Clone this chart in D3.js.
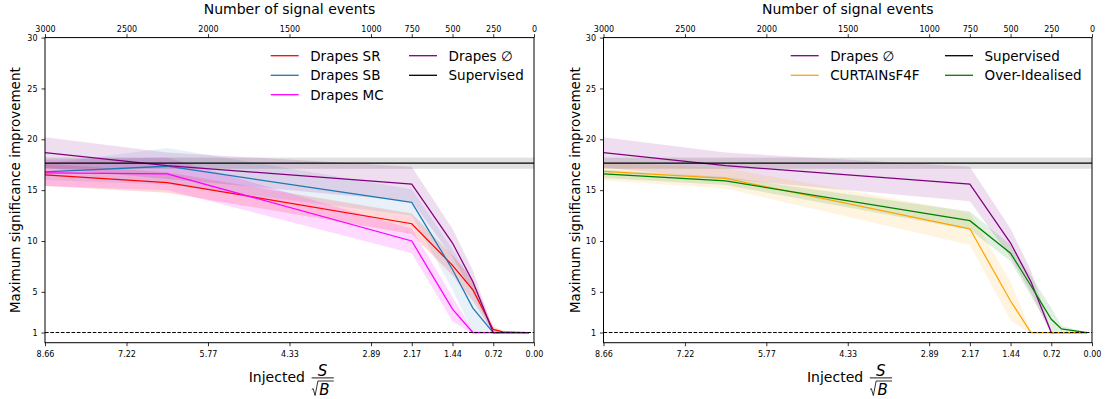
<!DOCTYPE html>
<html><head><meta charset="utf-8">
<script src="https://cdn.jsdelivr.net/npm/d3@7"></script>
<style>body{margin:0;background:#fff} svg{display:block} text{font-family:"DejaVu Sans",sans-serif;fill:#000}</style>
</head><body><svg id="c" width="1107" height="399"></svg>
<script>
// ---- data ----
const events = [3000, 2250, 750, 500, 375, 250, 187.5, 30];
const topTicks = [3000, 2500, 2000, 1500, 1000, 750, 500, 250, 0];
const bottomTickLabels = ["8.66", "7.22", "5.77", "4.33", "2.89", "2.17", "1.44", "0.72", "0.00"];
const yTicks = [1, 5, 10, 15, 20, 25, 30];

const drapesSR = [16.5, 15.75, 11.7, 7.6, 5.2, 1.3, 1.05, 1.0];
const drapesSRErr = [1.1, 1.0, 1.0, 1.0, 1.1, 0.3, 0.1, 0];
const drapesSB = [16.8, 17.35, 13.8, 7.2, 3.4, 1.0, 1.0, 1.0];
const drapesSBErr = [0.8, 1.8, 1.3, 2.0, 2.4, 0.1, 0, 0];
const drapesMC = [16.7, 16.6, 10.0, 3.3, 1.0, 1.0, 1.0, 1.0];
const drapesMCErr = [1.3, 1.6, 1.2, 1.2, 0.2, 0, 0, 0];
const drapesEmpty = [18.7, 17.4, 15.6, 9.8, 6.0, 1.0, 1.0, 1.0];
const drapesEmptyErr = [1.5, 1.3, 1.7, 1.4, 1.1, 0.2, 0, 0];
const curtains = [16.85, 16.15, 11.2, 4.1, 1.0, 1.0, 1.0, 1.0];
const curtainsErr = [0.9, 1.0, 1.6, 1.9, 0.2, 0, 0, 0];
const overIdealised = [16.6, 15.9, 12.0, 8.8, 5.6, 2.3, 1.35, 1.0];
const overIdealisedErr = [0.4, 0.4, 0.9, 0.8, 1.0, 1.1, 0.3, 0.05];
const supervised = 17.65;
const supervisedErr = 0.55;

// ---- layout ----
const yTop = 37.6, yBot = 342.7;
const y = d3.scaleLinear().domain([0, 30]).range([yBot, yTop]);
const svg = d3.select("#c");

const S = (name, vals, errs, color, alpha) => ({name, vals, errs, color, alpha});
const panels = [
  {x0: 45, x1: 534, ylabX: 20,
   series: [S("Drapes SR", drapesSR, drapesSRErr, "#ff0000", 0.15),
            S("Drapes SB", drapesSB, drapesSBErr, "#1f77b4", 0.1),
            S("Drapes MC", drapesMC, drapesMCErr, "#ff00ff", 0.15),
            S("Drapes \u2205", drapesEmpty, drapesEmptyErr, "#800080", 0.13)],
   legend: [{n: "Drapes SR", c: "#ff0000", x: 270.7, r: 0}, {n: "Drapes SB", c: "#1f77b4", x: 270.7, r: 1},
            {n: "Drapes MC", c: "#ff00ff", x: 270.7, r: 2}, {n: "Drapes \u2205", c: "#800080", x: 409, r: 0},
            {n: "Supervised", c: "#000", x: 409, r: 1}]},
  {x0: 603.5, x1: 1092, ylabX: 580,
   series: [S("Drapes \u2205", drapesEmpty, drapesEmptyErr, "#800080", 0.13),
            S("CURTAINsF4F", curtains, curtainsErr, "#ffa500", 0.12),
            S("Over-Idealised", overIdealised, overIdealisedErr, "#008000", 0.12)],
   legend: [{n: "Drapes \u2205", c: "#800080", x: 790.7, r: 0}, {n: "CURTAINsF4F", c: "#ffa500", x: 790.7, r: 1},
            {n: "Supervised", c: "#000", x: 945, r: 0}, {n: "Over-Idealised", c: "#008000", x: 945, r: 1}]}
];
const rowsY = [55.7, 75.3, 94.7];

panels.forEach((p, pi) => {
  const x = d3.scaleLinear().domain([3000, 0]).range([p.x0, p.x1]);
  const g = svg.append("g");
  const cx = (p.x0 + p.x1) / 2;

  // bands
  p.series.forEach(s => {
    const area = d3.area().x((d, i) => x(events[i])).y0((d, i) => y(s.vals[i] - s.errs[i])).y1((d, i) => y(s.vals[i] + s.errs[i]));
    g.append("path").datum(s.vals).attr("d", area).attr("fill", s.color).attr("fill-opacity", s.alpha).attr("stroke", "none");
  });
  // supervised band
  g.append("rect").attr("x", p.x0).attr("width", p.x1 - p.x0)
    .attr("y", y(supervised + supervisedErr)).attr("height", y(supervised - supervisedErr) - y(supervised + supervisedErr))
    .attr("fill", "#000").attr("fill-opacity", 0.12);
  // lines
  p.series.forEach(s => {
    const line = d3.line().x((d, i) => x(events[i])).y(d => y(d));
    g.append("path").datum(s.vals).attr("d", line).attr("fill", "none").attr("stroke", s.color).attr("stroke-width", 1.25);
  });
  g.append("line").attr("x1", p.x0).attr("x2", p.x1).attr("y1", y(supervised)).attr("y2", y(supervised))
    .attr("stroke", "#000").attr("stroke-width", 1.3);
  g.append("line").attr("x1", p.x0).attr("x2", p.x1).attr("y1", y(1)).attr("y2", y(1))
    .attr("stroke", "#000").attr("stroke-width", 1).attr("stroke-dasharray", "3.7,1.6");

  // axes
  const fmtAxis = sel => { sel.select(".domain").remove(); sel.selectAll("text").attr("font-size", 8).attr("font-family", "DejaVu Sans"); sel.selectAll("line").attr("stroke", "#000").attr("stroke-width", 0.8); };
  g.append("g").attr("transform", `translate(0,${yBot})`)
    .call(d3.axisBottom(x).tickValues(topTicks).tickFormat((d, i) => bottomTickLabels[i]).tickSize(3.5).tickPadding(5)).call(fmtAxis);
  g.append("g").attr("transform", `translate(0,${yTop})`)
    .call(d3.axisTop(x).tickValues(topTicks).tickFormat(d3.format("d")).tickSize(3.5).tickPadding(2.6)).call(fmtAxis);
  g.append("g").attr("transform", `translate(${p.x0},0)`)
    .call(d3.axisLeft(y).tickValues(yTicks).tickSize(3.5).tickPadding(4)).call(fmtAxis);
  g.append("rect").attr("x", p.x0).attr("y", yTop).attr("width", p.x1 - p.x0).attr("height", yBot - yTop)
    .attr("fill", "none").attr("stroke", "#000").attr("stroke-width", 1);

  // titles
  g.append("text").attr("x", cx).attr("y", 14).attr("text-anchor", "middle").attr("font-size", 14).text("Number of signal events");
  g.append("text").attr("transform", `translate(${p.ylabX},${(yTop + yBot) / 2}) rotate(-90)`).attr("text-anchor", "middle")
    .attr("font-size", 13.5).text("Maximum significance improvement");
  // Injected S/sqrt(B)
  g.append("text").attr("x", cx - 40.8).attr("y", 382).attr("font-size", 14).text("Injected");
  g.append("text").attr("x", cx + 33).attr("y", 376).attr("text-anchor", "middle").attr("font-size", 15).attr("font-style", "italic").text("S");
  g.append("line").attr("x1", cx + 22.1).attr("x2", cx + 44.3).attr("y1", 377.9).attr("y2", 377.9).attr("stroke", "#000").attr("stroke-width", 0.9);
  g.append("path").attr("d", `M${cx + 22.3},${389.5} L${cx + 23.6},${388.6} L${cx + 25.6},${395.5} L${cx + 28.4},${381} L${cx + 44.3},${381}`)
    .attr("fill", "none").attr("stroke", "#000").attr("stroke-width", 0.8);
  g.append("text").attr("x", cx + 29.8).attr("y", 395.3).attr("font-size", 15).attr("font-style", "italic").text("B");

  // legend
  p.legend.forEach(l => {
    const ly = rowsY[l.r];
    g.append("line").attr("x1", l.x).attr("x2", l.x + 28).attr("y1", ly).attr("y2", ly).attr("stroke", l.c).attr("stroke-width", 1.3);
    g.append("text").attr("x", l.x + 39.5).attr("y", ly + 5).attr("font-size", 13.5).text(l.n);
  });
});
</script></body></html>
